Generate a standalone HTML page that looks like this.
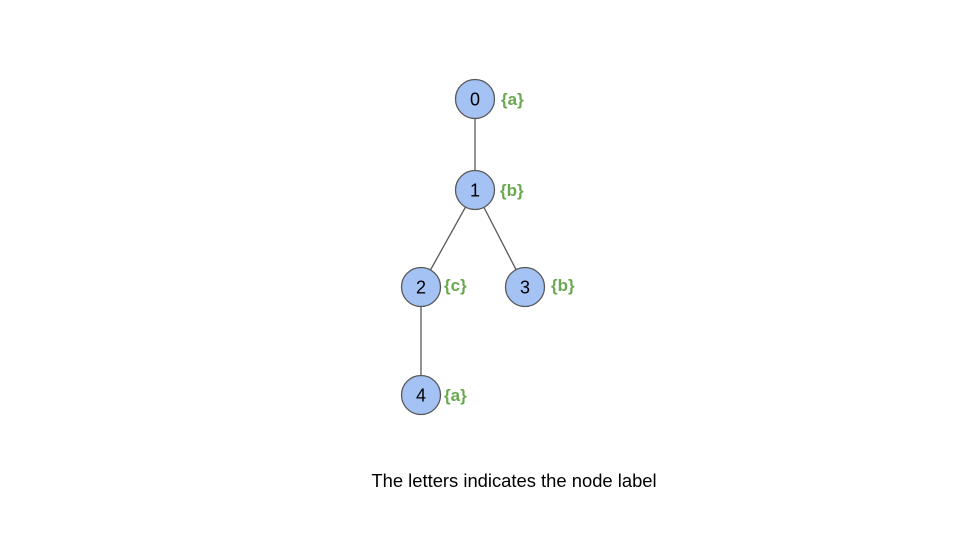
<!DOCTYPE html>
<html><head><style>html,body{margin:0;padding:0;background:#fff}</style></head>
<body>
<svg width="960" height="540" xmlns="http://www.w3.org/2000/svg" style="display:block">
<g stroke="#595959" stroke-width="1.3">
<line x1="475" y1="99" x2="475" y2="190"/>
<line x1="475" y1="190" x2="421" y2="287"/>
<line x1="475" y1="190" x2="525" y2="287"/>
<line x1="421" y1="287" x2="421" y2="395"/>
</g>
<g fill="#a4c2f4" stroke="#595959" stroke-width="1.3">
<circle cx="475" cy="99" r="19.5"/>
<circle cx="475" cy="190" r="19.5"/>
<circle cx="421" cy="287" r="19.5"/>
<circle cx="525" cy="287" r="19.5"/>
<circle cx="421" cy="395" r="19.5"/>
</g>
<g font-family="Liberation Sans, sans-serif" font-size="18" fill="#000" text-anchor="middle">
<text x="475" y="105.5">0</text>
<text x="475" y="196.5">1</text>
<text x="421" y="293.5">2</text>
<text x="525" y="293.5">3</text>
<text x="421" y="401.5">4</text>
</g>
<g font-family="Liberation Sans, sans-serif" font-size="17" font-weight="bold" fill="#6aa84f">
<text x="501" y="105">{a}</text>
<text x="500" y="196">{b}</text>
<text x="444" y="291">{c}</text>
<text x="551" y="291">{b}</text>
<text x="444" y="401">{a}</text>
</g>
<text x="514" y="487" font-family="Liberation Sans, sans-serif" font-size="18.4" fill="#000" text-anchor="middle">The letters indicates the node label</text>
</svg>
</body></html>
